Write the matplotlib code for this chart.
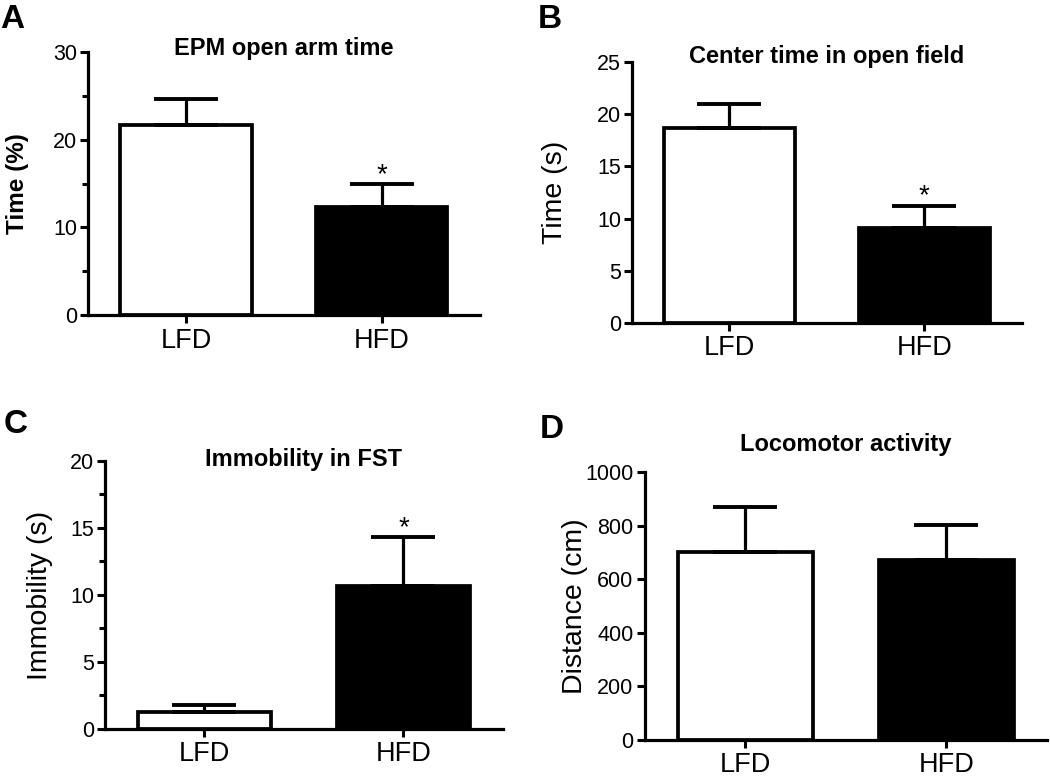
import matplotlib
matplotlib.use("Agg")
import matplotlib.pyplot as plt
from matplotlib.ticker import MultipleLocator

plt.rcParams['font.family'] = ['Liberation Sans', 'DejaVu Sans']

groups = ['LFD', 'HFD']
colors = ['white', 'black']

# panel A: EPM open arm time
a_mean = [21.7, 12.3]
a_sem = [2.9, 2.6]
# panel B: center time in open field
b_mean = [18.7, 9.1]
b_sem = [2.3, 2.1]
# panel C: immobility in FST
c_mean = [1.3, 10.7]
c_sem = [0.5, 3.6]
# panel D: locomotor activity
d_mean = [700, 672]
d_sem = [169, 130]

fig = plt.figure(figsize=(10.5, 7.76), dpi=100)

def panel(rect, mean, sem, ymax, major, minor, title, title_y, ylabel, ybold, lab_x, star):
    ax = fig.add_axes(rect)
    x = [0, 1]
    ax.bar(x, mean, width=0.67, color=colors, edgecolor='black', linewidth=2.7,
           yerr=[[0, 0], sem], capsize=23,
           error_kw=dict(elinewidth=2.3, capthick=2.8, ecolor='black'))
    ax.set_xlim(-0.5, 1.5)
    ax.set_ylim(0, ymax)
    ax.set_xticks(x)
    ax.set_xticklabels(groups, fontsize=19.5)
    ax.yaxis.set_major_locator(MultipleLocator(major))
    if minor:
        ax.yaxis.set_minor_locator(MultipleLocator(minor))
    ax.tick_params(axis='y', which='major', labelsize=15.5, length=6, width=2.2, pad=2)
    ax.tick_params(axis='y', which='minor', length=4.5, width=2.2)
    ax.tick_params(axis='x', length=6, width=2.2, pad=3)
    for s in ['top', 'right']:
        ax.spines[s].set_visible(False)
    for s in ['left', 'bottom']:
        ax.spines[s].set_linewidth(2.3)
    ax.text(0.5, title_y, title, transform=ax.transAxes, ha='center', va='baseline',
            fontsize=17, fontweight='bold')
    ax.set_ylabel(ylabel, fontsize=17.5 if ybold else 20.5,
                  fontweight='bold' if ybold else 'normal')
    ax.yaxis.set_label_coords(lab_x, 0.5)
    if star:
        i = 1
        ax.annotate('*', xy=(i, mean[i] + sem[i]), xytext=(0, -2.5), textcoords='offset points',
                    ha='center', va='bottom', fontsize=20)
    return ax

panel([0.0838, 0.594, 0.373, 0.339], a_mean, a_sem, 30, 10, 5,
      'EPM open arm time', 0.989, 'Time (%)', True, -0.15, True)
panel([0.602, 0.584, 0.371, 0.336], b_mean, b_sem, 25, 5, None,
      'Center time in open field', 0.996, 'Time (s)', False, -0.165, True)
panel([0.100, 0.0606, 0.379, 0.3454], c_mean, c_sem, 20, 5, 2.5,
      'Immobility in FST', 0.981, 'Immobility (s)', False, -0.13, True)
panel([0.614, 0.0464, 0.383, 0.3454], d_mean, d_sem, 1000, 200, None,
      'Locomotor activity', 1.078, 'Distance (cm)', False, -0.14, False)

for lab, xf, yb in [('A', 0.0, 28), ('B', 0.512, 28), ('C', 0.003, 433), ('D', 0.514, 438)]:
    fig.text(xf, 1 - yb / 776, lab, fontsize=24, fontweight='bold', va='baseline', ha='left')

fig.savefig('out.png', dpi=100)
